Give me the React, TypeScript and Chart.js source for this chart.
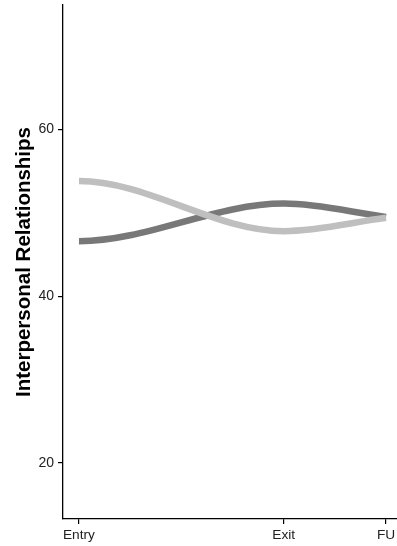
import { useEffect, useRef } from "react";
import { Chart, registerables } from "chart.js";

Chart.register(...registerables);

// Assessment occasions and where they sit on the time axis
const timeLabels = ["Entry", "Exit", "FU"];
const timePoints = [0, 2, 3];

// Group means on the Interpersonal Relationships scale
const groupDark = [46.6, 51.1, 49.5];
const groupLight = [53.8, 47.8, 49.4];

const yTicks = [20, 40, 60];

const FONT = '"Liberation Sans", Arial, Helvetica, sans-serif';

// Draws each dataset as a smooth Hermite curve through its scaled points:
// flat at the first occasion, flat at turning points, following the last
// segment at the final occasion.
const smoothCurves = {
  id: "smoothCurves",
  afterDatasetsDraw(chart: any) {
    const { ctx, chartArea } = chart;
    chart.data.datasets.forEach((ds: any, di: number) => {
      const meta = chart.getDatasetMeta(di);
      const pts = meta.data.map((p: any) => ({ x: p.x, y: p.y }));
      const n = pts.length;
      if (n < 2) return;
      const sec: number[] = [];
      for (let i = 0; i < n - 1; i++) {
        sec.push((pts[i + 1].y - pts[i].y) / (pts[i + 1].x - pts[i].x));
      }
      const m = pts.map((_: any, i: number) => {
        if (i === 0) return 0;
        if (i === n - 1) return sec[n - 2];
        const a = sec[i - 1];
        const b = sec[i];
        if (a * b <= 0) return 0;
        return (2 * a * b) / (a + b);
      });
      ctx.save();
      ctx.beginPath();
      ctx.rect(
        chartArea.left,
        chartArea.top,
        chartArea.right - chartArea.left,
        chartArea.bottom - chartArea.top
      );
      ctx.clip();
      ctx.beginPath();
      ctx.moveTo(pts[0].x, pts[0].y);
      for (let i = 0; i < n - 1; i++) {
        const p0 = pts[i];
        const p1 = pts[i + 1];
        const h = p1.x - p0.x;
        ctx.bezierCurveTo(
          p0.x + h / 3,
          p0.y + (m[i] * h) / 3,
          p1.x - h / 3,
          p1.y - (m[i + 1] * h) / 3,
          p1.x,
          p1.y
        );
      }
      ctx.lineWidth = ds.borderWidth;
      ctx.strokeStyle = ds.borderColor;
      ctx.lineCap = "butt";
      ctx.lineJoin = "round";
      ctx.stroke();
      ctx.restore();
    });
  },
};

export default function App() {
  const canvasRef = useRef<HTMLCanvasElement | null>(null);

  useEffect(() => {
    if (!canvasRef.current) return;
    const toXY = (vals: number[]) =>
      vals.map((v, i) => ({ x: timePoints[i], y: v }));

    const chart = new Chart(canvasRef.current, {
      type: "line",
      data: {
        datasets: [
          {
            data: toXY(groupDark),
            borderColor: "#787878",
            borderWidth: 6.5,
            showLine: false,
            pointRadius: 0,
          },
          {
            data: toXY(groupLight),
            borderColor: "#bfbfbf",
            borderWidth: 6.5,
            showLine: false,
            pointRadius: 0,
          },
        ],
      },
      options: {
        animation: false,
        responsive: true,
        maintainAspectRatio: false,
        layout: { padding: { top: 5, left: 0, right: 0, bottom: 0 } },
        plugins: {
          legend: { display: false },
          tooltip: { enabled: false },
        },
        scales: {
          x: {
            type: "linear",
            min: -0.156,
            max: 3.107,
            afterBuildTicks: (s: any) => {
              s.ticks = timePoints.map((v) => ({ value: v }));
            },
            afterFit: (s: any) => {
              s.height = 27;
              s.paddingLeft = 0;
              s.paddingRight = 0;
            },
            ticks: {
              autoSkip: false,
              maxRotation: 0,
              padding: 3,
              color: "#222",
              font: { family: FONT, size: 13.7 },
              callback: (v: any) => {
                const i = timePoints.indexOf(Number(v));
                return i >= 0 ? timeLabels[i] : "";
              },
            },
            grid: {
              drawOnChartArea: false,
              drawTicks: true,
              tickLength: 5,
              color: "#000",
              lineWidth: 1.2,
            },
            border: { display: true, color: "#000", width: 1.3 },
          },
          y: {
            type: "linear",
            min: 13.3,
            max: 74.9,
            afterBuildTicks: (s: any) => {
              s.ticks = yTicks.map((v) => ({ value: v }));
            },
            afterFit: (s: any) => {
              s.width = 63;
              s.paddingTop = 0;
              s.paddingBottom = 0;
            },
            ticks: {
              padding: 4,
              color: "#222",
              font: { family: FONT, size: 14 },
            },
            grid: {
              drawOnChartArea: false,
              drawTicks: true,
              tickLength: 5,
              color: "#000",
              lineWidth: 1.2,
            },
            border: { display: true, color: "#000", width: 1.3 },
            title: {
              display: true,
              text: "Interpersonal Relationships",
              color: "#000",
              font: { family: FONT, size: 20.5, weight: "bold" },
              padding: { top: 12, bottom: 0 },
            },
          },
        },
      },
      plugins: [smoothCurves],
    });

    return () => chart.destroy();
  }, []);

  return (
    <div
      style={{
        position: "absolute",
        left: 0,
        top: 0,
        width: 397,
        height: 546,
        background: "#fff",
      }}
    >
      <canvas ref={canvasRef} />
    </div>
  );
}
